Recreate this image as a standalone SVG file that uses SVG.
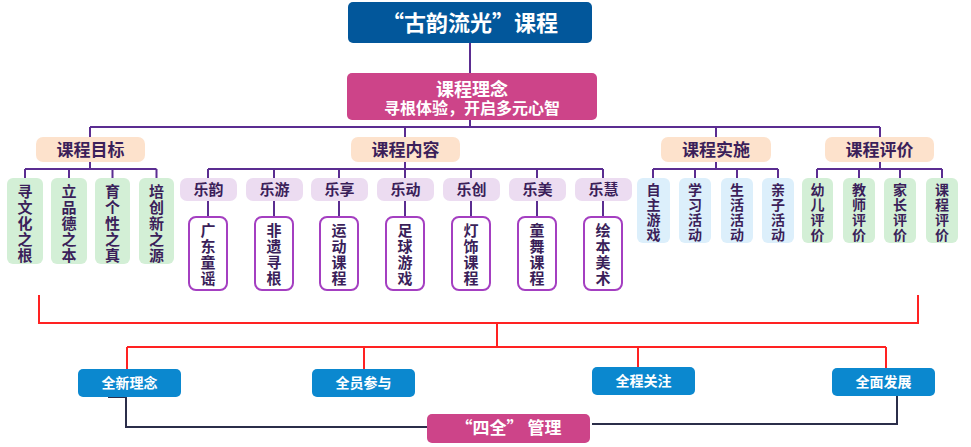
<svg xmlns="http://www.w3.org/2000/svg" width="971" height="447" viewBox="0 0 971 447">
<style>
text{font-family:"Noto Sans CJK SC","Noto Sans",sans-serif;font-weight:bold;text-anchor:middle}
.w{fill:#fff}
.d{fill:#3b1f5a}
.peach{fill:#fde2cc}
.lav{fill:#ecdcf1}
.sub{fill:#fff;stroke:#a43fc1;stroke-width:2}
.grn{fill:#d3efd6}
.blu{fill:#dceffb}
.bb{fill:#0b88cf}
.pk{fill:#cd4489}
.p{fill:none;stroke:#5b2d91;stroke-width:2}
.r{fill:none;stroke:#ff2222;stroke-width:2}
.n{fill:none;stroke:#2b2e4a;stroke-width:2}
.h{font-size:17px}
.v{font-size:15px}
.s{font-size:15px}
.t{font-size:14px}
.b{font-size:14px}
</style>
<rect x="0" y="0" width="971" height="447" fill="#fff"/>
<g id="connectors">
<path class="p" d="M470 43V73M470 120V127M90 127H880M90 127V137M405 127V137M716 127V137M880 127V137"/>
<path class="p" d="M90 162V169M25 169H156.5M25 169V178M69 169V178M112.5 169V178M156.5 169V178"/>
<path class="p" d="M405 162V169M208 169H603M208 169V178M274 169V178M339 169V178M405 169V178M471 169V178M537 169V178M603 169V178"/>
<path class="p" d="M208 201V217M274 201V217M339 201V217M405 201V217M471 201V217M537 201V217M603 201V217"/>
<path class="p" d="M716 162V169M653 169H778M653 169V178M695 169V178M737 169V178M778 169V178"/>
<path class="p" d="M880 162V169M817 169H942M817 169V178M859 169V178M900 169V178M942 169V178"/>
<path class="r" d="M39 295V323H918V295M497 323V347M127 347H886M127 347V369M364 347V369M638 347V367M886 347V368"/>
<path class="n" d="M108 397H126V427H427"/>
<path class="n" d="M897 396V424H592"/>
</g>
<g id="title"><rect x="348" y="2" width="244" height="41" rx="5" fill="#02579b"/><text class="w" x="470" y="31" font-size="22">“古韵流光”课程</text></g>
<g id="linian"><rect x="347" y="73" width="250" height="47" rx="5" class="pk"/><text class="w" x="472" y="96" font-size="18">课程理念</text><text class="w" x="472" y="114" font-size="16">寻根体验，开启多元心智</text></g>
<g id="mubiao"><rect x="36" y="137" width="109" height="25" rx="7" class="peach"/><text class="d h" x="90.5" y="156">课程目标</text></g>
<g id="neirong"><rect x="351" y="137" width="109" height="25" rx="7" class="peach"/><text class="d h" x="405.5" y="156">课程内容</text></g>
<g id="shishi"><rect x="661" y="137" width="110" height="25" rx="7" class="peach"/><text class="d h" x="716" y="156">课程实施</text></g>
<g id="pingjia"><rect x="825" y="137" width="109" height="25" rx="7" class="peach"/><text class="d h" x="879.5" y="156">课程评价</text></g>
<g id="g1"><rect x="7" y="178" width="36" height="86" rx="6" class="grn"/><text class="d v"><tspan x="25" y="197">寻</tspan><tspan x="25" y="213">文</tspan><tspan x="25" y="229">化</tspan><tspan x="25" y="245">之</tspan><tspan x="25" y="261">根</tspan></text></g>
<g id="g2"><rect x="51" y="178" width="36" height="86" rx="6" class="grn"/><text class="d v"><tspan x="69" y="197">立</tspan><tspan x="69" y="213">品</tspan><tspan x="69" y="229">德</tspan><tspan x="69" y="245">之</tspan><tspan x="69" y="261">本</tspan></text></g>
<g id="g3"><rect x="95" y="178" width="35" height="86" rx="6" class="grn"/><text class="d v"><tspan x="112.5" y="197">育</tspan><tspan x="112.5" y="213">个</tspan><tspan x="112.5" y="229">性</tspan><tspan x="112.5" y="245">之</tspan><tspan x="112.5" y="261">真</tspan></text></g>
<g id="g4"><rect x="139" y="178" width="35" height="86" rx="6" class="grn"/><text class="d v"><tspan x="156.5" y="197">培</tspan><tspan x="156.5" y="213">创</tspan><tspan x="156.5" y="229">新</tspan><tspan x="156.5" y="245">之</tspan><tspan x="156.5" y="261">源</tspan></text></g>
<g id="l1"><rect x="180" y="178" width="57" height="23" rx="7" class="lav"/><text class="d s" x="208.5" y="195">乐韵</text></g>
<g id="l2"><rect x="246" y="178" width="57" height="23" rx="7" class="lav"/><text class="d s" x="274.5" y="195">乐游</text></g>
<g id="l3"><rect x="311" y="178" width="57" height="23" rx="7" class="lav"/><text class="d s" x="339.5" y="195">乐享</text></g>
<g id="l4"><rect x="377" y="178" width="57" height="23" rx="7" class="lav"/><text class="d s" x="405.5" y="195">乐动</text></g>
<g id="l5"><rect x="443" y="178" width="57" height="23" rx="7" class="lav"/><text class="d s" x="471.5" y="195">乐创</text></g>
<g id="l6"><rect x="509" y="178" width="57" height="23" rx="7" class="lav"/><text class="d s" x="537.5" y="195">乐美</text></g>
<g id="l7"><rect x="575" y="178" width="57" height="23" rx="7" class="lav"/><text class="d s" x="603.5" y="195">乐慧</text></g>
<g id="s1"><rect x="189" y="217" width="38" height="73" rx="7" class="sub"/><text class="d v"><tspan x="208" y="236">广</tspan><tspan x="208" y="252">东</tspan><tspan x="208" y="268">童</tspan><tspan x="208" y="284">谣</tspan></text></g>
<g id="s2"><rect x="255" y="217" width="38" height="73" rx="7" class="sub"/><text class="d v"><tspan x="274" y="236">非</tspan><tspan x="274" y="252">遗</tspan><tspan x="274" y="268">寻</tspan><tspan x="274" y="284">根</tspan></text></g>
<g id="s3"><rect x="320" y="217" width="38" height="73" rx="7" class="sub"/><text class="d v"><tspan x="339" y="236">运</tspan><tspan x="339" y="252">动</tspan><tspan x="339" y="268">课</tspan><tspan x="339" y="284">程</tspan></text></g>
<g id="s4"><rect x="386" y="217" width="38" height="73" rx="7" class="sub"/><text class="d v"><tspan x="405" y="236">足</tspan><tspan x="405" y="252">球</tspan><tspan x="405" y="268">游</tspan><tspan x="405" y="284">戏</tspan></text></g>
<g id="s5"><rect x="452" y="217" width="38" height="73" rx="7" class="sub"/><text class="d v"><tspan x="471" y="236">灯</tspan><tspan x="471" y="252">饰</tspan><tspan x="471" y="268">课</tspan><tspan x="471" y="284">程</tspan></text></g>
<g id="s6"><rect x="518" y="217" width="38" height="73" rx="7" class="sub"/><text class="d v"><tspan x="537" y="236">童</tspan><tspan x="537" y="252">舞</tspan><tspan x="537" y="268">课</tspan><tspan x="537" y="284">程</tspan></text></g>
<g id="s7"><rect x="584" y="217" width="38" height="73" rx="7" class="sub"/><text class="d v"><tspan x="603" y="236">绘</tspan><tspan x="603" y="252">本</tspan><tspan x="603" y="268">美</tspan><tspan x="603" y="284">术</tspan></text></g>
<g id="b1"><rect x="637" y="178" width="33" height="65" rx="6" class="blu"/><text class="d t"><tspan x="653.5" y="195">自</tspan><tspan x="653.5" y="210">主</tspan><tspan x="653.5" y="225">游</tspan><tspan x="653.5" y="240">戏</tspan></text></g>
<g id="b2"><rect x="679" y="178" width="32" height="65" rx="6" class="blu"/><text class="d t"><tspan x="695" y="195">学</tspan><tspan x="695" y="210">习</tspan><tspan x="695" y="225">活</tspan><tspan x="695" y="240">动</tspan></text></g>
<g id="b3"><rect x="721" y="178" width="32" height="65" rx="6" class="blu"/><text class="d t"><tspan x="737" y="195">生</tspan><tspan x="737" y="210">活</tspan><tspan x="737" y="225">活</tspan><tspan x="737" y="240">动</tspan></text></g>
<g id="b4"><rect x="762" y="178" width="32" height="65" rx="6" class="blu"/><text class="d t"><tspan x="778" y="195">亲</tspan><tspan x="778" y="210">子</tspan><tspan x="778" y="225">活</tspan><tspan x="778" y="240">动</tspan></text></g>
<g id="e1"><rect x="802" y="178" width="31" height="65" rx="6" class="grn"/><text class="d t"><tspan x="817.5" y="195">幼</tspan><tspan x="817.5" y="210">儿</tspan><tspan x="817.5" y="225">评</tspan><tspan x="817.5" y="240">价</tspan></text></g>
<g id="e2"><rect x="843" y="178" width="32" height="65" rx="6" class="grn"/><text class="d t"><tspan x="859" y="195">教</tspan><tspan x="859" y="210">师</tspan><tspan x="859" y="225">评</tspan><tspan x="859" y="240">价</tspan></text></g>
<g id="e3"><rect x="884" y="178" width="32" height="65" rx="6" class="grn"/><text class="d t"><tspan x="900" y="195">家</tspan><tspan x="900" y="210">长</tspan><tspan x="900" y="225">评</tspan><tspan x="900" y="240">价</tspan></text></g>
<g id="e4"><rect x="926" y="178" width="32" height="65" rx="6" class="grn"/><text class="d t"><tspan x="942" y="195">课</tspan><tspan x="942" y="210">程</tspan><tspan x="942" y="225">评</tspan><tspan x="942" y="240">价</tspan></text></g>
<g id="q1"><rect x="78" y="369" width="103" height="28" rx="5" class="bb"/><text class="w b" x="129.5" y="388">全新理念</text></g>
<g id="q2"><rect x="312" y="369" width="103" height="28" rx="5" class="bb"/><text class="w b" x="363.5" y="388">全员参与</text></g>
<g id="q3"><rect x="592" y="367" width="103" height="28" rx="5" class="bb"/><text class="w b" x="643.5" y="386">全程关注</text></g>
<g id="q4"><rect x="832" y="368" width="103" height="28" rx="5" class="bb"/><text class="w b" x="883.5" y="387">全面发展</text></g>
<g id="siquan"><rect x="427" y="414" width="163" height="29" rx="5" class="pk"/><text class="w" x="508.5" y="434" font-size="17">“四全” 管理</text></g>
</svg>
